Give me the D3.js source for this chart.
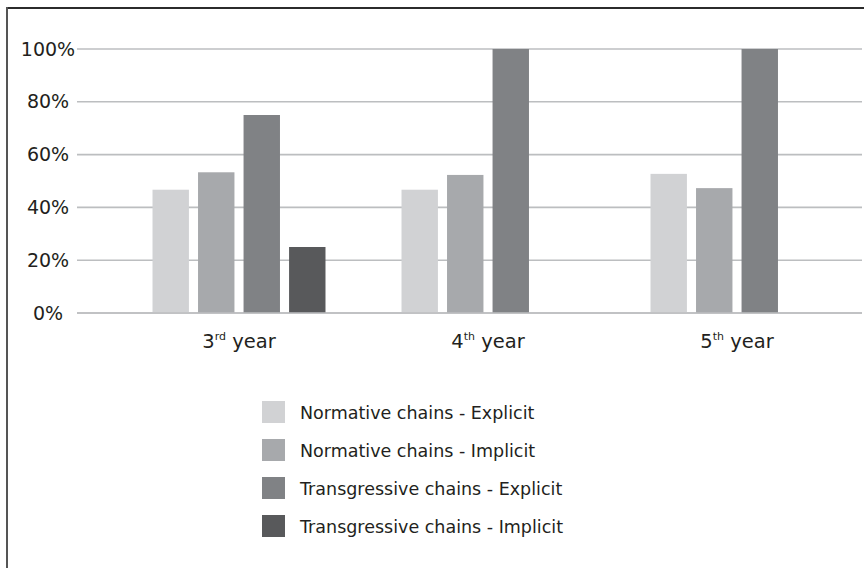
<!DOCTYPE html>
<html>
<head>
<meta charset="utf-8">
<script src="https://cdn.jsdelivr.net/npm/d3@7"></script>
<style>
  html, body { margin: 0; padding: 0; background: #fff; }
  svg { display: block; }
  text { font-family: "DejaVu Sans", sans-serif; fill: #231f20; }
</style>
</head>
<body>
<svg id="chart" width="864" height="568"></svg>
<script>
const categories = ["3", "4", "5"];
const categorySuffix = ["rd", "th", "th"];
const seriesNames = [
  "Normative chains - Explicit",
  "Normative chains - Implicit",
  "Transgressive chains - Explicit",
  "Transgressive chains - Implicit"
];
const normativeExplicit = [46.7, 46.7, 52.7];
const normativeImplicit = [53.3, 52.3, 47.3];
const transgressiveExplicit = [75, 100, 100];
const transgressiveImplicit = [25, 0, 0];
const yTicks = [0, 20, 40, 60, 80, 100];
const colors = ["#d1d2d4", "#a7a9ac", "#808285", "#58595b"];

const seriesValues = [normativeExplicit, normativeImplicit, transgressiveExplicit, transgressiveImplicit];

const svg = d3.select("#chart");

// frame (top and left borders)
svg.append("line").attr("x1", 7).attr("x2", 864).attr("y1", 8).attr("y2", 8)
  .attr("stroke", "#2b2b2b").attr("stroke-width", 2);
svg.append("line").attr("x1", 7).attr("x2", 7).attr("y1", 7).attr("y2", 568)
  .attr("stroke", "#555").attr("stroke-width", 2);

const y = d3.scaleLinear().domain([0, 100]).range([313, 49]);
const x0 = d3.scaleBand().domain(categories).range([114.5, 861.5]).padding(0);
const x1 = d3.scaleBand().domain(seriesNames).range([0, x0.bandwidth()])
  .paddingInner(0.2).paddingOuter(0.835);

// gridlines
const yAxis = d3.axisLeft(y).tickValues(yTicks).tickSize(0).tickFormat(d => d + "%");
const grid = svg.append("g");
grid.selectAll("line").data(yTicks).join("line")
  .attr("x1", 77).attr("x2", 862)
  .attr("y1", d => y(d)).attr("y2", d => y(d))
  .attr("stroke", "#bcbec0").attr("stroke-width", 1.6);

// y tick labels via axis
const gy = svg.append("g").attr("transform", "translate(48,0)").call(yAxis);
gy.select(".domain").remove();
gy.selectAll("text").attr("x", 0).attr("text-anchor", "middle")
  .attr("font-size", 19).attr("font-family", "DejaVu Sans, sans-serif").attr("fill", "#231f20");

// bars
const groups = svg.append("g").selectAll("g").data(categories).join("g")
  .attr("transform", d => `translate(${x0(d)},0)`);
groups.selectAll("rect")
  .data((d, i) => seriesNames.map((s, j) => ({ s, v: seriesValues[j][i], c: colors[j] })))
  .join("rect")
  .attr("x", d => x1(d.s))
  .attr("width", x1.bandwidth())
  .attr("y", d => y(d.v))
  .attr("height", d => y(0) - y(d.v))
  .attr("fill", d => d.c);

// redraw zero line over bars
svg.append("line").attr("x1", 77).attr("x2", 862).attr("y1", y(0)).attr("y2", y(0))
  .attr("stroke", "#bcbec0").attr("stroke-width", 1.6);

// x labels
const xl = svg.append("g").selectAll("text").data(categories).join("text")
  .attr("x", d => x0(d) + x0.bandwidth() / 2)
  .attr("y", 348)
  .attr("text-anchor", "middle")
  .attr("font-size", 19.5);
xl.append("tspan").text(d => d);
xl.append("tspan").attr("font-size", 11).attr("dy", -8).text((d, i) => categorySuffix[i]);
xl.append("tspan").attr("dy", 8).text(" year");

// legend
const legend = svg.append("g").selectAll("g").data(seriesNames).join("g")
  .attr("transform", (d, i) => `translate(262,${401 + i * 38})`);
legend.append("rect").attr("width", 23).attr("height", 22)
  .attr("fill", (d, i) => colors[i]);
legend.append("text").attr("x", 38).attr("y", 18).attr("font-size", 17.5).text(d => d);
</script>
</body>
</html>
